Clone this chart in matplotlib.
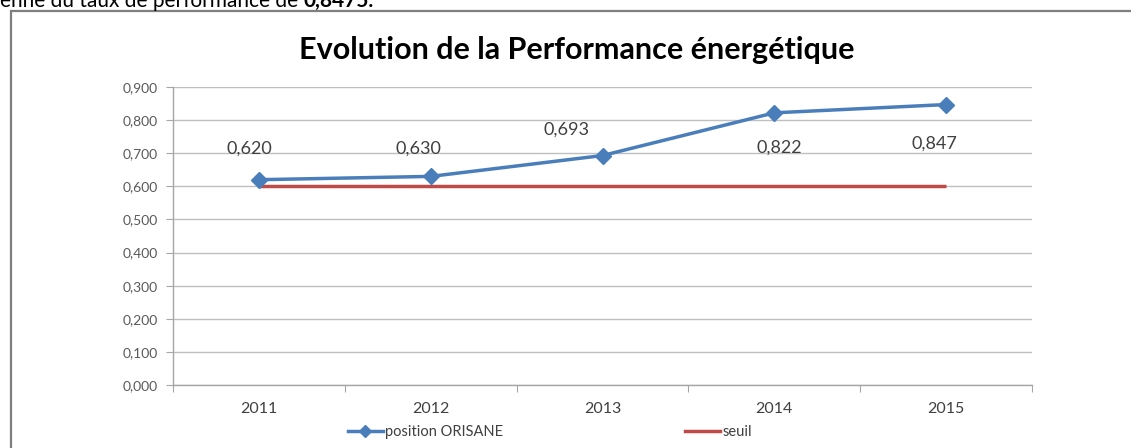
import matplotlib
matplotlib.use("Agg")
import matplotlib.pyplot as plt
from matplotlib.patches import Rectangle
from matplotlib.lines import Line2D

plt.rcParams['font.family'] = ['Lato', 'DejaVu Sans']

years = ["2011", "2012", "2013", "2014", "2015"]
orisane = [0.620, 0.630, 0.693, 0.822, 0.847]
seuil = [0.600, 0.600, 0.600, 0.600, 0.600]
y_ticks = [0.0, 0.1, 0.2, 0.3, 0.4, 0.5, 0.6, 0.7, 0.8, 0.9]
title = "Evolution de la Performance énergétique"
top_text_normal = "enne du taux de performance de "
top_text_bold = "0,8475."

# label offsets in pixels (style only)
label_offsets = [(-10, 31), (-12, 28), (-36, 26), (5, -35), (-12, -39)]

W, H = 1131, 448
fig = plt.figure(figsize=(W / 100, H / 100), dpi=100)

# outer chart border
fig.patches.append(Rectangle((11 / W, -0.1), 1.2, 1 - 11 / H + 0.1,
                             transform=fig.transFigure, fill=False,
                             edgecolor='#7f7f7f', linewidth=1.6, zorder=0))

# top cut text
t = fig.text(0.0, 1 - 7 / H, top_text_normal, fontsize=15, color='#000000',
             ha='left', va='baseline')
fig.canvas.draw()
bb = t.get_window_extent()
fig.text(bb.x1 / W, 1 - 7 / H, top_text_bold, fontsize=15, fontweight='bold',
         color='#000000', ha='left', va='baseline')

ax = fig.add_axes([173 / W, 1 - 385 / H, (1032 - 173) / W, (385 - 87) / H])
x = list(range(len(years)))
ax.set_xlim(-0.5, len(years) - 0.5)
ax.set_ylim(0, 0.9)

ax.set_yticks(y_ticks)
ax.set_yticklabels([f"{v:.3f}".replace('.', ',') for v in y_ticks],
                   fontsize=10, color='#595959')
ax.grid(axis='y', color='#bfbfbf', linewidth=1.0)
ax.set_axisbelow(True)

ax.set_xticks([i + 0.5 for i in range(-1, len(years))])
ax.set_xticklabels([])
ax.set_xticks(x, minor=True)
ax.set_xticklabels(years, minor=True, fontsize=11.5, color='#404040')
ax.tick_params(axis='x', which='minor', length=0, pad=12)
ax.tick_params(axis='x', which='major', length=5, color='#a6a6a6', direction='out')
ax.tick_params(axis='y', length=5, color='#a6a6a6', direction='out', pad=6)

for s in ['top', 'right']:
    ax.spines[s].set_visible(False)
for s in ['left', 'bottom']:
    ax.spines[s].set_color('#a6a6a6')
    ax.spines[s].set_linewidth(1.0)

blue = '#4a7ebb'
red = '#be4b48'
ax.plot(x, seuil, color=red, linewidth=2.5, solid_capstyle='butt', zorder=3)
ax.plot(x, orisane, color=blue, linewidth=2.5, marker='D', markersize=8,
        markerfacecolor=blue, markeredgecolor=blue, zorder=4)

for xi, v, (dx, dy) in zip(x, orisane, label_offsets):
    ax.annotate(f"{v:.3f}".replace('.', ','), (xi, v), xytext=(dx, dy),
                textcoords='offset pixels', ha='center', va='center',
                fontsize=13, color='#404040')

fig.text(577 / W, 1 - 50 / H, title, fontsize=22, fontweight='bold',
         ha='center', va='center', color='#000000')

handles = [Line2D([], [], color=blue, linewidth=2.5, marker='D', markersize=6),
           Line2D([], [], color=red, linewidth=2.5)]
fig.legend(handles, ["position ORISANE", "seuil"], loc='center',
           bbox_to_anchor=(550 / W, 1 - 432 / H), ncol=2, frameon=False,
           fontsize=10.5, handlelength=2.4, handletextpad=0.15,
           columnspacing=12.5, labelcolor='#404040')

fig.savefig("out.png", dpi=100, facecolor='white')
